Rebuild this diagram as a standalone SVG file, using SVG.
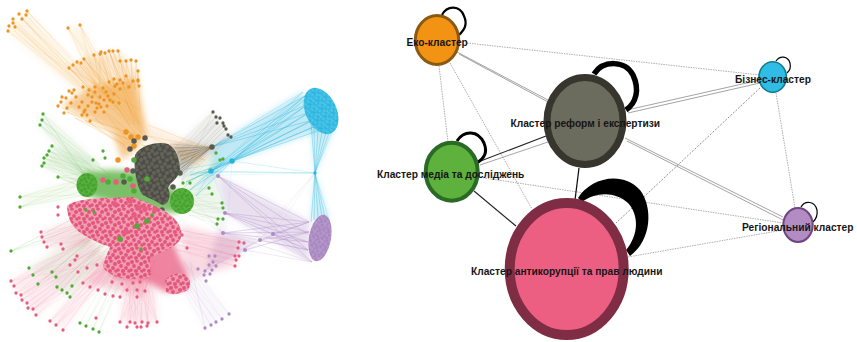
<svg xmlns="http://www.w3.org/2000/svg" width="857" height="342" viewBox="0 0 857 342">
<style>
.f{stroke:none}
.l{fill:none;stroke-width:.45;stroke-opacity:.2}
.h{fill:none;stroke-width:.5;stroke-opacity:.38}
.d{fill:none;stroke-linecap:round;stroke-width:3.3}
.big{fill:none;stroke-linecap:round;stroke-width:5.5}
.o{color:#ee9420}.g{color:#4fab35}.p{color:#e85c80}.k{color:#5a5a50}.b{color:#27b5de}.v{color:#ad8cc4}
.o path,.g path,.p path,.k path,.b path,.v path{stroke:currentColor}
.o .f,.g .f,.p .f,.k .f,.b .f,.v .f{fill:currentColor;stroke:none}
.e{fill:none;stroke:#777;stroke-width:.6;stroke-dasharray:1.5 1}
.s{fill:none;stroke:#666;stroke-width:.6}
text{font-family:"Liberation Sans",Arial,sans-serif;font-size:10.2px;font-weight:700;fill:#151515}
</style>
<defs>
<filter id="soft" x="-5%" y="-5%" width="110%" height="110%"><feGaussianBlur stdDeviation=".45"/></filter>
<filter id="haze" x="-10%" y="-10%" width="120%" height="120%"><feGaussianBlur stdDeviation="3"/></filter>
<g id="tile"><circle cx="2" cy="2" r="2"/><circle cx="7" cy="1" r="1.8"/><circle cx="11" cy="4" r="2"/><circle cx="4" cy="6" r="1.9"/><circle cx="9" cy="8" r="1.9"/><circle cx="1" cy="10" r="1.8"/><circle cx="6" cy="11" r="2"/><circle cx="12" cy="11" r="1.8"/></g>
<pattern id="pp" width="13" height="13" patternUnits="userSpaceOnUse"><rect width="13" height="13" fill="#ef9db2"/><use href="#tile" fill="#e5557a"/></pattern>
<pattern id="pb" width="11" height="11" patternUnits="userSpaceOnUse" patternTransform="scale(.8)"><rect width="13" height="13" fill="#2bb6df"/><use href="#tile" fill="#4cc4e8"/></pattern>
<pattern id="pv" width="11" height="11" patternUnits="userSpaceOnUse" patternTransform="scale(.8)"><rect width="13" height="13" fill="#b698cb"/><use href="#tile" fill="#a786c0"/></pattern>
<pattern id="pk" width="13" height="13" patternUnits="userSpaceOnUse"><rect width="13" height="13" fill="#4e4e45"/><use href="#tile" fill="#63635a"/></pattern>
<pattern id="pg" width="13" height="13" patternUnits="userSpaceOnUse" patternTransform="scale(.8)"><rect width="13" height="13" fill="#58b23e"/><use href="#tile" fill="#44a02d"/></pattern>
</defs>

<g id="network" filter="url(#soft)">
<g id="net-edges">
<g id="haze-layer" filter="url(#haze)">
<g class="v">
<path class="f" opacity=".28" d="M218,176L310,222L310,262L225,213L223,233L260,240L245,250L205,270L225,213Z"/>
<path class="f" opacity=".07" d="M205,328L229,314L190,262L172,270Z"/>
</g>
<g class="b">
<path class="f" opacity=".3" d="M303,92L212,147L211,171L193,193L232,161L320,130Z"/>
<path class="f" opacity=".25" d="M311,125L315,173L334,128Z"/>
<path class="f" opacity=".25" d="M315,173L311,222L329,220Z"/>
</g>
<path class="f" fill="#8c8c80" opacity=".16" d="M213,112L231,137L182,180L172,150Z"/>
<path class="f" fill="#77776a" opacity=".4" d="M212,147L170,145L178,172Z"/>
<g class="o">
<path class="f" opacity=".1" d="M8,31L27,11L100,95L80,95Z"/>
<path class="f" opacity=".1" d="M68,28L80,25L115,85L95,85Z"/>
<path class="f" opacity=".2" d="M69,68L84,59L118,51L138,71L145,130L130,120Z"/>
<path class="f" opacity=".5" d="M62,105L90,88L135,78L148,135L135,150L122,160L112,130Z"/>
<path class="f" opacity=".15" d="M148,125L212,150L200,165L150,150Z"/>
</g>
<g class="g">
<path class="f" opacity=".1" d="M43,114L40,125L90,185L100,165Z"/>
<path class="f" opacity=".12" d="M52,146L42,166L85,185L93,160Z"/>
<path class="f" opacity=".06" d="M20,197L20,207L85,195L80,178Z"/>
<path class="f" opacity=".07" d="M29,268L70,297L120,240L85,225Z"/>
<path class="f" opacity=".1" d="M216,153L223,219L180,205L180,175Z"/>
<path class="f" opacity=".75" d="M85,172L112,170L140,172L175,190L190,205L175,213L130,208L85,195Z"/>
</g>
<g class="p">
<path class="f" opacity=".12" d="M11,281L36,315L105,255L85,235Z"/>
<path class="f" opacity=".1" d="M50,321L63,330L115,265L100,255Z"/>
<path class="f" opacity=".15" d="M120,322L157,322L155,275L125,275Z"/>
<path class="f" opacity=".16" d="M41,232L47,247L95,245L85,215Z"/>
<path class="f" opacity=".22" d="M180,225L240,240L235,266L185,280Z"/>
<path class="f" opacity=".28" d="M83,283L145,296L150,260L110,255Z"/>
<path class="f" opacity=".75" d="M105,262L165,222L185,270L188,288L165,292L145,280L115,278Z"/>
</g>
</g>
<g class="v">
<path class="h" d="M225,213L309,222L225,213L309,232L225,213L308,242L225,213L308,250L225,213L312,262L218,176L309,222L218,176L309,235L218,176L308,250L218,176L312,262L223,233L309,222L223,233L309,232L223,233L308,242L223,233L308,250L260,240L309,222L260,240L309,232L260,240L308,250L273,234L309,222L273,234L308,242L273,234L312,262L245,250L309,232L245,250L205,270L260,240L215,262"/>
<path class="l" d="M205,328L172,270L211,325L176,265L216,322L180,268L222,319L184,262L229,314L190,262L205,328L190,262M315,173L260,240M315,173L273,234M315,173L245,250M225,213L190,200L223,233L185,210L225,213L185,190L223,233L180,235"/>
</g>
<g class="b">
<path class="h" d="M303,92L232,161L305,96L232,161L308,104L232,161L310,112L232,161L313,120L232,161L316,126L232,161L320,130L232,161L304,100L232,161M303,92L211,171L305,96L211,171L308,104L211,171L310,112L211,171L313,120L211,171L316,126L211,171M303,92L212,147L305,96L212,147L308,104L212,147L310,112L212,147L313,120L212,147M232,161L190,175L232,161L186,182L232,161L190,190L232,161L196,196L232,161L180,170M211,171L190,175L211,171L186,182L211,171L190,190L211,171L196,196"/>
<path class="h" d="M315,173L311,122L315,173L314,126L315,173L318,131L315,173L322,132L315,173L326,132L315,173L330,130L315,173L334,126M315,173L311,222L315,173L314,220L315,173L318,218L315,173L322,217L315,173L325,217L315,173L329,220"/>
<path class="l" d="M315,173L232,161L315,173L211,171L315,173L190,172L315,173L180,176M232,161L228,215M211,171L225,205"/>
</g>
<g class="k">
<path class="l" d="M213,112L172,160L216,117L176,160L220,118L178,165L217,123L176,170L223,123L180,170L224,126L182,168L226,129L180,175L228,135L178,178L231,137L182,180L213,112L172,150"/>
<path class="h" d="M212,147L175,148L212,147L178,152L212,147L180,156L212,147L181,160L212,147L180,165L212,147L178,170L212,147L175,175L212,147L172,180L212,147L170,144"/>
</g>
<g class="o">
<path class="l" d="M8,31L80,90L9,26L85,92L13,23L90,95L13,19L95,96L15,27L80,85L19,14L90,90L22,19L95,95L26,15L100,90L27,11L105,92L8,31L110,110L13,23L115,105L22,19L118,110L27,11L120,105M68,28L95,85L80,25L105,80L68,28L108,90L80,25L115,85L68,28L100,95L80,25L120,95"/>
<path class="h" d="M69,68L100,100L73,65L105,95L77,62L110,100L81,63L115,95L84,59L120,100L94,55L100,85L100,54L110,85L101,52L115,88L105,53L120,85L109,51L125,90L113,51L125,80L118,51L130,85L120,61L128,90L126,61L132,85L131,60L135,90L136,61L138,85L138,71L140,110L69,68L130,125L84,59L135,125L109,51L140,125"/>
<path class="h" d="M62,108L135,135L67,112L130,140L75,118L125,145L85,120L128,150L95,118L135,150L105,112L140,140L115,105L143,135L125,100L146,135M148,125L212,150L145,135L205,160L142,145L200,165"/>
</g>
<g class="g">
<path class="l" d="M43,114L85,175L42,120L95,170L40,125L88,180L43,114L100,165L42,120L110,175L40,125L100,180M52,146L85,175L49,151L90,170L47,155L85,180L44,158L90,175L44,163L85,185L42,166L92,178L52,146L105,170L49,151L100,180L47,155L110,178L44,158L105,185M20,197L78,180L20,207L80,185L20,197L85,195L20,207L88,190L58,177L85,180L58,177L90,190L58,177L85,172M11,251L80,215L11,251L85,225L11,251L95,230M29,268L90,240L33,275L95,235L38,284L85,245L52,272L100,230L56,277L110,235L57,287L100,245L62,290L105,240L67,293L110,245L70,297L115,250L72,286L100,250M80,323L115,265L86,326L120,265L93,329L125,268L99,332L130,265M216,153L185,185L220,160L180,190L223,159L188,190L209,188L190,195L212,194L192,200L222,203L192,205L223,208L190,210L218,219L192,212L223,219L188,215L217,224L190,210"/>
</g>
<g class="p">
<path class="l" d="M11,281L85,240L14,286L90,235L16,293L95,250L21,295L100,240L22,300L95,255L27,303L105,245L28,308L100,255L33,309L110,250L36,315L115,260L11,281L100,250L21,295L110,255L33,309L120,260M50,321L105,260L56,325L110,265L63,330L115,260L50,321L120,265L56,325L125,268M96,318L120,270M120,322L130,278L130,322L135,278L135,323L125,278L142,322L140,278L148,323L145,278L157,322L150,278L127,327L132,278L137,327L138,278L141,327L143,278L147,326L150,280L120,322L140,278L157,322L130,278M41,232L80,225L42,237L85,220L44,242L78,230L47,247L85,232L61,244L90,238L63,249L95,235L77,256L105,245L75,260L110,250M83,283L115,255L90,287L120,255L98,290L125,260L105,294L130,262L113,296L135,262L120,297L140,260L127,290L145,265L137,297L150,260L145,291L155,260M239,242L180,230L244,243L178,235L238,248L182,240L235,256L175,240L239,256L178,245L236,260L176,250L235,266L180,250M175,295L205,270"/>
</g>
</g>
<g id="cluster-orange" class="o">
<path class="d" d="M8,31h0M9,26h0M13,23h0M13,19h0M15,27h0M19,14h0M22,19h0M26,15h0M27,11h0M68,28h0M80,25h0M69,68h0M73,65h0M77,62h0M81,63h0M84,59h0M94,55h0M100,54h0M101,52h0M105,53h0M109,51h0M113,51h0M118,51h0M120,61h0M126,61h0M131,60h0M136,61h0M138,71h0M138,81h0M139,86h0"/>
<path class="d" d="M58,106h0M61,102h0M62,97h0M64,113h0M67,108h0M71,103h0M69,91h0M74,90h0M76,97h0M79,107h0M82,115h0M90,121h0M82,102h0M88,106h0M92,102h0M95,112h0M99,104h0M104,112h0M107,106h0M113,102h0M119,103h0M114,94h0M108,96h0M100,97h0M95,92h0M88,95h0M83,87h0M95,87h0M103,88h0M109,82h0M114,79h0M120,80h0M126,76h0M133,81h0M138,80h0M129,87h0M120,89h0M115,86h0M104,100h0M97,108h0M87,115h0M72,93h0M66,98h0M85,110h0M92,97h0M101,107h0M110,100h0M117,84h0M123,83h0M106,92h0M89,90h0M96,103h0M84,112h0"/>
<path class="big" d="M126,132h0M118,160h0M134,146h0M138,137h0M131,137h0"/>
</g>
<g id="cluster-gray" class="k">
<path class="f" style="fill:url(#pk)" d="M135,155C140,145 158,141 168,144C176,148 180,160 180,170C178,180 170,182 168,188C172,196 168,205 162,205C155,200 148,198 143,195C138,190 133,170 135,155Z"/>
<path class="d" d="M213,112h0M216,117h0M220,118h0M217,123h0M223,123h0M224,126h0M226,129h0M228,135h0M231,137h0"/>
<path class="big" d="M212,147h0M134,141h0M145,138h0M130,149h0M133,171h0M180,173h0M173,187h0M124,182h0M162,210h0"/>
</g>
<g id="cluster-pink" class="p">
<path class="f" style="fill:url(#pp)" d="M67,207C70,200 90,198 133,197C150,203 165,210 173,217C180,225 184,232 180,240C175,248 160,252 150,258C150,268 152,274 150,277C135,280 125,279 117,277C110,274 104,270 103,267C105,258 108,252 110,247C105,245 98,243 93,240C85,236 80,233 77,230C72,225 68,220 67,207Z"/>
<path class="f" style="fill:url(#pp)" d="M165,280C170,275 178,272 184,274C190,278 192,282 188,290C180,294 172,296 166,292Z"/>
<path class="d" d="M11,281h0M14,286h0M16,293h0M21,295h0M22,300h0M27,303h0M28,308h0M33,309h0M36,315h0M50,321h0M56,325h0M63,330h0M96,318h0M120,322h0M130,322h0M135,323h0M142,322h0M148,323h0M157,322h0M127,327h0M137,327h0M141,327h0M147,326h0"/>
<path class="d" d="M41,232h0M42,237h0M44,242h0M47,247h0M61,244h0M63,249h0M77,256h0M75,260h0M83,283h0M90,287h0M98,290h0M105,294h0M113,296h0M120,297h0M127,290h0M137,297h0M145,291h0M137,290h0M70,265h0M78,272h0M87,268h0M97,265h0M112,282h0M122,284h0M133,283h0M140,282h0M58,207h0M58,215h0M239,242h0M244,243h0M238,248h0M235,256h0M239,256h0M236,260h0M235,266h0M187,248h0M182,235h0"/>
<path class="big" d="M130,201h0M115,204h0M133,186h0M127,170h0M145,209h0M155,209h0M139,208h0M126,232h0M134,215h0M137,226h0M103,180h0M116,182h0"/>
</g>
<g id="cluster-green" class="g">
<ellipse class="f" style="fill:url(#pg)" cx="87" cy="185" rx="10.5" ry="12"/>
<ellipse class="f" style="fill:url(#pg)" cx="182" cy="201" rx="12" ry="13"/>
<path class="d" d="M43,114h0M42,120h0M40,125h0M52,146h0M49,151h0M47,155h0M44,158h0M44,163h0M42,166h0M20,197h0M20,207h0M58,177h0M93,160h0M103,151h0M105,158h0M11,251h0M29,268h0M33,275h0M38,284h0M52,272h0M56,277h0M57,287h0M62,290h0M67,293h0M70,297h0M72,286h0M80,323h0M86,326h0M93,329h0M99,332h0M216,153h0M220,160h0M223,159h0M209,188h0M212,194h0M222,203h0M223,208h0M218,219h0M223,219h0M217,224h0M190,183h0M183,183h0M141,249h0M120,239h0M86,210h0M94,212h0M146,221h0M152,215h0"/>
<path class="big" d="M134,160h0M130,179h0M147,179h0M134,191h0M137,226h0M147,221h0M108,182h0M123,176h0M120,239h0M137,226h0"/>
</g>
<g id="cluster-blue" class="b">
<ellipse class="f" style="fill:url(#pb)" cx="321" cy="111" rx="15.5" ry="24.5" transform="rotate(-25 321 111)"/>
<path class="big" d="M232,161h0M211,171h0"/>
<path class="d" d="M315,173h0"/>
</g>
<g id="cluster-purple" class="v">
<ellipse class="f" style="fill:url(#pv)" cx="320" cy="238" rx="11" ry="23.5" transform="rotate(10 320 238)"/>
<path class="d" d="M205,328h0M211,325h0M216,322h0M222,319h0M229,314h0M198,269h0M205,271h0M209,265h0M213,262h0M215,256h0M209,256h0M204,275h0M210,274h0M206,281h0M216,266h0M212,270h0"/>
<path class="big" style="stroke-width:4" d="M225,213h0M223,233h0M260,240h0M273,234h0M245,250h0M218,176h0"/>
</g>
</g>

<g id="connectors" filter="url(#soft)">
<path class="e" d="M467,43L760,75M439,66L448,142M450,63L532,209M776,93L795,208M478,177L783,223M628,257L783,230"/>
<path class="e" style="stroke:#444;stroke-dasharray:2 1.5" d="M760,88L616,223"/>
<path class="s" d="M457,52L548,100M459,54L550,103M627,110L760,80M628,113L760,83M625,138L783,217M627,141L783,220M548,142L480,165"/>
<path class="s" style="stroke-width:1.1;stroke:#222" d="M546,136L478,162M474,191L516,226"/>
<path class="s" style="stroke-width:1.3;stroke:#111" d="M579,168L575,200"/>
</g>

<g id="loops" filter="url(#soft)">
<path fill="#000" d="M578,198C590,178 622,170 640,190C653,207 652,240 630,256L626,250C639,235 639,215 628,203C615,191 595,192 582,202Z"/>
<path fill="none" stroke="#000" stroke-width="5.5" d="M594,74C603,60 625,60 633,75C640,90 636,103 626,110"/>
<path fill="none" stroke="#000" stroke-width="3" d="M457,141C464,130 478,130 484,143C488,153 484,158 477,163"/>
<path fill="none" stroke="#000" stroke-width="2.2" d="M442,15C447,5 460,5 464,16C468,25 464,30 459,35"/>
<path fill="none" stroke="#000" stroke-width="1.2" d="M776,61C780,55 788,56 790,63C791,68 790,70 787,73"/>
<path fill="none" stroke="#000" stroke-width="1.2" d="M801,207C805,200 815,201 817,210C818,216 816,219 813,222"/>
</g>

<g id="node-eco"><ellipse cx="437" cy="40" rx="21.7" ry="24.5" fill="#f39313" stroke="#8a5a15" stroke-width="3"/><text x="406.5" y="46">Еко-кластер</text></g>
<g id="node-reform"><ellipse cx="585" cy="121" rx="38" ry="43.5" fill="#6c6c5e" stroke="#36362e" stroke-width="7"/><text x="510.5" y="127">Кластер реформ і експертизи</text></g>
<g id="node-media"><ellipse cx="451.7" cy="171.7" rx="26" ry="29" fill="#5db13c" stroke="#2a6a27" stroke-width="4"/><text x="377" y="178">Кластер медіа та досліджень</text></g>
<g id="node-anti"><ellipse cx="566.7" cy="269" rx="57" ry="66" fill="#ed5f82" stroke="#7f2c45" stroke-width="10"/><text x="471" y="275">Кластер антикорупції та прав людини</text></g>
<g id="node-biz"><ellipse cx="772.7" cy="77" rx="13.7" ry="15.2" fill="#2fbde6" stroke="#127a8a" stroke-width="1.6"/><text x="735" y="83">Бізнес-кластер</text></g>
<g id="node-reg"><ellipse cx="798" cy="225" rx="14.7" ry="17" fill="#b28cc2" stroke="#6f4583" stroke-width="2"/><text x="742" y="231">Регіональний кластер</text></g>
</svg>
